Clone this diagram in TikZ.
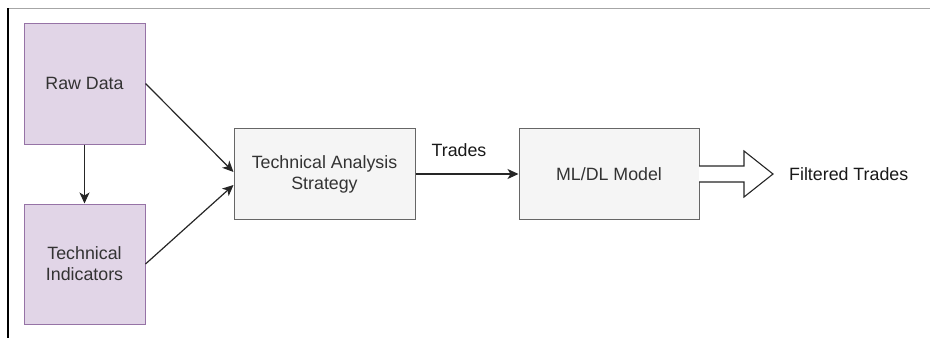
\documentclass[tikz,border=0pt]{standalone}
\usepackage{fontspec}
\setmainfont{Liberation Sans}
\usetikzlibrary{arrows.meta}
\definecolor{purfill}{HTML}{E1D5E7}
\definecolor{purdraw}{HTML}{9673A6}
\definecolor{gfill}{HTML}{F5F5F5}
\definecolor{gdraw}{HTML}{666666}
\definecolor{gtext}{HTML}{333333}
\tikzset{
  base/.style={font=\fontsize{17.8}{21}\selectfont, align=center, inner sep=0pt},
  purbox/.style={base, draw=purdraw, fill=purfill, line width=1pt, text=gtext, minimum width=121pt, minimum height=121pt},
  graybox/.style={base, draw=gdraw, fill=gfill, line width=1pt, text=gtext, minimum width=181pt, minimum height=91pt},
  conn/.style={draw=black!85, line width=1.2pt, -{Stealth[length=11pt,width=10pt,inset=3pt]}},
  lbl/.style={base, text=black!90}
}
\begin{document}
\begin{tikzpicture}[x=1pt,y=-1pt]
\useasboundingbox (0,0) rectangle (930,338);
\draw[gray!70, line width=1pt] (8,8) -- (930,8);
\draw[black, line width=2pt] (8,8) -- (8,338);
\node[purbox] (raw) at (84.5,83.5) {Raw Data};
\node[purbox, minimum height=120pt] (ti) at (84.5,264) {Technical\\Indicators};
\node[graybox] (tas) at (324.5,174) {Technical Analysis\\Strategy};
\node[graybox, minimum width=180pt] (ml) at (609,174) {ML/DL Model};
\draw[conn] (raw.south) -- (ti.north);
\draw[conn] (raw.east) -- ([yshift=2pt]tas.west);
\draw[conn] (ti.east) -- ([yshift=-11pt]tas.west);
\draw[conn] (tas.east) -- (ml.west);
\node[lbl] (trades) at (459,150) {Trades};
\coordinate (a1) at (699,166);
\coordinate (a2) at (744,166);
\coordinate (a3) at (744,151);
\coordinate (tip) at (773,174);
\coordinate (a5) at (744,197);
\coordinate (a6) at (744,182);
\coordinate (a7) at (699,182);
\draw[black!85, fill=white, line width=1.1pt, line join=miter] (a1) -- (a2) -- (a3) -- (tip) -- (a5) -- (a6) -- (a7);
\node[lbl, anchor=west] (ft) at (789,174) {Filtered Trades};
\end{tikzpicture}
\end{document}
